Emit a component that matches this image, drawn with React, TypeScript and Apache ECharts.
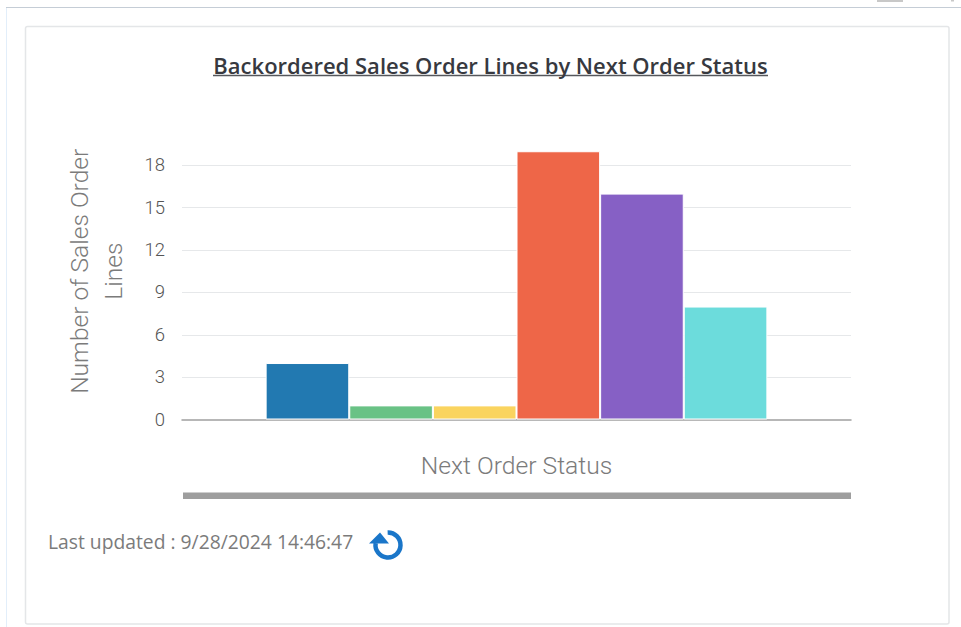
import React, { useEffect, useRef } from "react";
import * as echarts from "echarts";

const titleText = "Backordered Sales Order Lines by Next Order Status";
const yAxisTitle = "Number of Sales Order\nLines";
const xAxisTitle = "Next Order Status";
const updatedText = "Last updated : 9/28/2024 14:46:47";
const categories = [""];
const statusNames = ["Status A", "Status B", "Status C", "Status D", "Status E", "Status F"];
const statusValues = [4, 1, 1, 19, 16, 8];
const statusColors = ["#2279b1", "#69c285", "#fad45f", "#ee6648", "#8660c5", "#6cdcdc"];

export default function App() {
  const ref = useRef<HTMLDivElement>(null);
  useEffect(() => {
    const chart = echarts.init(ref.current!, null, { renderer: "svg" });
    const grey = "#7b7b7b";
    chart.setOption({
      animation: false,
      backgroundColor: "#ffffff",
      textStyle: { fontFamily: "Roboto" },
      title: {
        text: titleText,
        left: 485.5,
        top: 49,
        textAlign: "center",
        textStyle: { fontFamily: "Open Sans", fontSize: 22, fontWeight: 600, color: "#37393f" },
      },
      grid: { left: 182, right: 110, top: 123, bottom: 207.5 },
      xAxis: {
        type: "category",
        data: categories,
        name: xAxisTitle,
        nameLocation: "middle",
        nameGap: 33,
        nameTextStyle: { fontFamily: "Roboto", fontWeight: 300, fontSize: 24.7, color: grey },
        axisLine: { lineStyle: { color: "#a0a0a0", width: 1.5 } },
        axisTick: { show: false },
        axisLabel: { show: false },
      },
      yAxis: {
        type: "value",
        min: 0,
        max: 21,
        interval: 3,
        name: yAxisTitle,
        nameLocation: "middle",
        nameGap: 52,
        nameRotate: 90,
        nameTextStyle: { fontFamily: "Roboto", fontWeight: 300, fontSize: 24.6, lineHeight: 34, color: grey },
        axisLine: { show: false },
        axisTick: { show: false },
        axisLabel: { showMaxLabel: false, margin: 17, fontFamily: "Roboto", fontWeight: 300, fontSize: 18.5, color: "#555555", verticalAlign: "middle", lineHeight: 22, padding: [0, 0, 3, 0] },
        splitLine: { showMaxLine: false, showMinLine: false, lineStyle: { color: "#e6e8ea", width: 1 } },
      },
      series: statusValues.map((v, i) => ({
        type: "bar",
        name: statusNames[i],
        data: [v],
        barGap: 0,
        barCategoryGap: "25%",
        itemStyle: { color: statusColors[i], borderColor: "#ffffff", borderWidth: 1 },
      })),
      graphic: [
        { type: "line", z: -1, shape: { x1: 6, y1: 7.5, x2: 961, y2: 7.5 }, style: { stroke: "#c5cdd6", lineWidth: 1 } },
        { type: "line", z: -1, shape: { x1: 6.5, y1: 8, x2: 6.5, y2: 627 }, style: { stroke: "#e2eefa", lineWidth: 1 } },
        { type: "rect", z: -1, shape: { x: 25.5, y: 26.5, width: 923.5, height: 597.5, r: 2 }, style: { fill: "#ffffff", stroke: "#e4e6e8", lineWidth: 1.5 } },
        { type: "rect", shape: { x: 877, y: 0, width: 26, height: 2 }, style: { fill: "#c8c8c8" } },
        { type: "rect", shape: { x: 951, y: 0, width: 3, height: 1.5 }, style: { fill: "#c8c8c8" } },
        { type: "line", shape: { x1: 213, y1: 75.5, x2: 768, y2: 75.5 }, style: { stroke: "#55575c", lineWidth: 1.6 } },
        { type: "rect", shape: { x: 183, y: 492.5, width: 668, height: 6.5 }, style: { fill: "#9e9e9e" } },
        { type: "text", x: 48, y: 541, style: { text: updatedText, fontFamily: "Open Sans", fontSize: 19.3, fill: "#7b7b7b", verticalAlign: "middle" } },
        { type: "arc", shape: { cx: 388, cy: 545, r: 12.5, startAngle: -1.6, endAngle: 3.3, clockwise: true }, style: { stroke: "#1a76c9", fill: "none", lineWidth: 4.5 } },
        { type: "polygon", shape: { points: [[369, 543.5], [380, 532.5], [389, 543.5]] }, style: { fill: "#1a76c9" } },
      ],
    });
    return () => chart.dispose();
  }, []);
  return <div ref={ref} style={{ position: "fixed", left: 0, top: 0, width: 961, height: 627 }} />;
}
